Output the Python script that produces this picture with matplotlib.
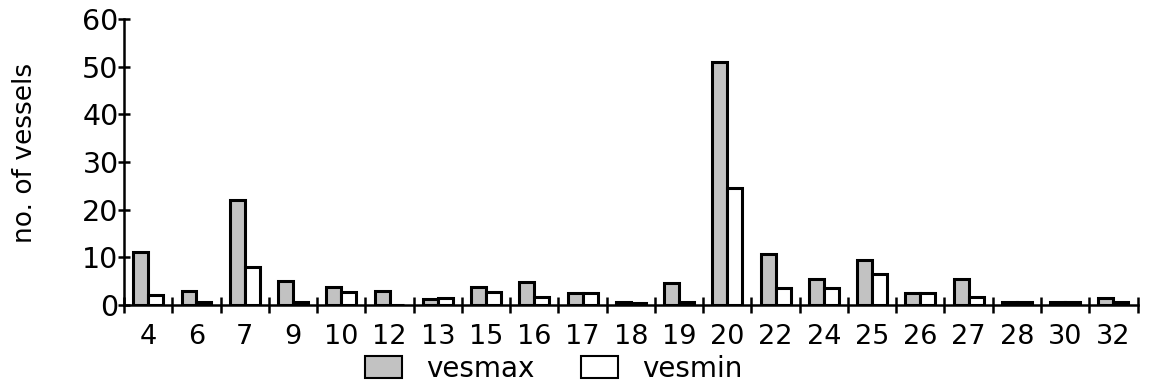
import matplotlib.pyplot as plt
import numpy as np
from matplotlib.patches import Patch

categories = ['4', '6', '7', '9', '10', '12', '13', '15', '16', '17', '18',
              '19', '20', '22', '24', '25', '26', '27', '28', '30', '32']
vesmax = [11, 3, 22, 5, 3.7, 3, 1.2, 3.8, 4.8, 2.6, 0.6,
          4.7, 51, 10.7, 5.5, 9.5, 2.6, 5.4, 0.6, 0.6, 1.5]
vesmin = [2, 0.6, 8, 0.6, 2.8, 0, 1.5, 2.8, 1.7, 2.6, 0.3,
          0.6, 24.5, 3.5, 3.5, 6.5, 2.6, 1.6, 0.6, 0.6, 0.6]

plt.rcParams['font.family'] = ['DejaVu Sans']

fig = plt.figure(figsize=(11.49, 3.85), dpi=100)
ax = fig.add_axes([0.108, 0.208, 0.882, 0.743])

x = np.arange(len(categories))
w = 0.31
gray = '#c2c2c2'
ax.bar(x - w / 2, vesmax, w, color=gray, edgecolor='black', linewidth=2.2)
ax.bar(x + w / 2, vesmin, w, color='white', edgecolor='black', linewidth=2.2)

ax.set_xlim(-0.5, len(categories) - 0.5)
ax.set_ylim(0, 60)
ax.set_yticks(range(0, 61, 10))

# category labels centred, tick marks on the boundaries
ax.set_xticks(np.arange(-0.5, len(categories)), minor=False)
ax.set_xticklabels([])
ax.set_xticks(x, minor=True)
ax.set_xticklabels(categories, minor=True, fontsize=19.5)
ax.tick_params(axis='x', which='major', direction='inout', length=12, width=1.8)
ax.tick_params(axis='x', which='minor', length=0, pad=14)
ax.tick_params(axis='y', direction='inout', length=8, width=1.8, labelsize=20.5, pad=0)

for s in ['top', 'right']:
    ax.spines[s].set_visible(False)
for s in ['left', 'bottom']:
    ax.spines[s].set_linewidth(1.8)

ax.set_ylabel('no. of vessels', fontsize=19, labelpad=30)
ax.yaxis.set_label_coords(-0.085, 0.53)

handles = [Patch(facecolor=gray, edgecolor='black', linewidth=1.5, label='vesmax'),
           Patch(facecolor='white', edgecolor='black', linewidth=1.5, label='vesmin')]
fig.legend(handles=handles, loc='center', bbox_to_anchor=(0.482, 0.042), ncol=2,
           frameon=False, fontsize=20, handlelength=1.33, handleheight=0.83,
           columnspacing=1.7, handletextpad=0.86, borderpad=0)

fig.savefig('out.png', dpi=100)
